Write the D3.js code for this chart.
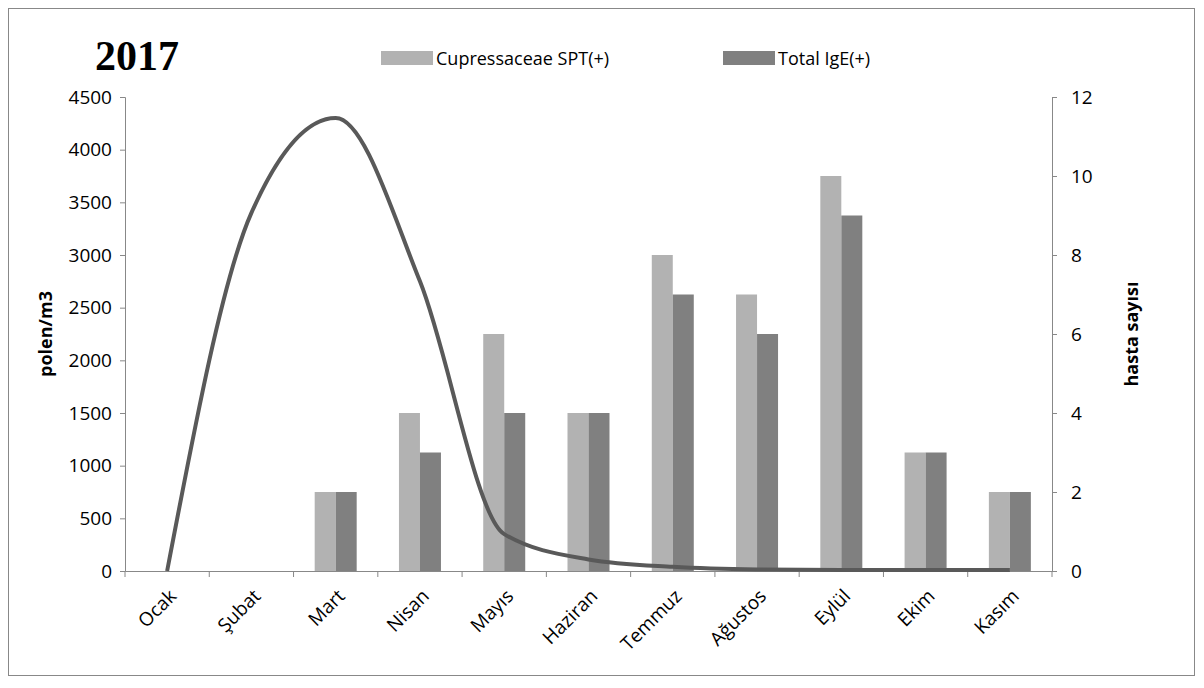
<!DOCTYPE html>
<html><head><meta charset="utf-8">
<script src="https://cdn.jsdelivr.net/npm/d3@7"></script>
<style>body{margin:0;background:#fff}</style>
</head><body>
<svg id="c" width="1204" height="688" font-family="'Open Sans',sans-serif"></svg>
<script>
const months = ['Ocak','Şubat','Mart','Nisan','Mayıs','Haziran','Temmuz','Ağustos','Eylül','Ekim','Kasım'];
const spt = [0,0,2,4,6,4,8,7,10,3,2];
const ige = [0,0,2,3,4,4,7,6,9,3,2];
const polen = [0,3400,4300,2750,350,110,40,15,10,10,10];
const leftTicks = d3.range(0,4501,500);
const rightTicks = d3.range(0,13,2);

const svg = d3.select('#c');
svg.append('rect').attr('x',8.5).attr('y',8.5).attr('width',1186).attr('height',667)
  .attr('fill','#fff').attr('stroke','#888');

const m = {l:125,r:1052,t:97,b:571};
const x = d3.scaleBand().domain(months).range([m.l,m.r]);
const yL = d3.scaleLinear().domain([0,4500]).range([m.b,m.t]);
const yR = d3.scaleLinear().domain([0,12]).range([m.b,m.t]);

const gl = svg.append('g').attr('transform',`translate(${m.l},0)`)
  .call(d3.axisLeft(yL).tickValues(leftTicks).tickFormat(d3.format('d')).tickSize(5).tickPadding(8));
const gr = svg.append('g').attr('transform',`translate(${m.r},0)`)
  .call(d3.axisRight(yR).tickValues(rightTicks).tickSize(5).tickPadding(14));
const gx = svg.append('g').attr('transform',`translate(0,${m.b})`)
  .call(d3.axisBottom(x).tickSize(6).tickSizeOuter(0));
gx.selectAll('.tick line').attr('transform',`translate(${x.bandwidth()/2},0)`);
gx.append('line').attr('x1',m.l).attr('x2',m.l).attr('y2',6).attr('stroke','#888');
[gl,gr,gx].forEach(g=>{g.selectAll('path,line').attr('stroke','#888');
  g.selectAll('text').attr('font-size',19).attr('fill','#000').attr('font-family','"Open Sans",sans-serif');});
gx.selectAll('text').attr('text-anchor','end').attr('dy',0)
  .attr('transform','translate(4,20) rotate(-45)');

const bw = 21;
const g = svg.append('g');
months.forEach((mo,i)=>{
  const cx = x(mo)+x.bandwidth()/2;
  g.append('rect').attr('x',cx-bw).attr('width',bw).attr('y',yR(spt[i])).attr('height',m.b-yR(spt[i])).attr('fill','#b2b2b2');
  g.append('rect').attr('x',cx).attr('width',bw).attr('y',yR(ige[i])).attr('height',m.b-yR(ige[i])).attr('fill','#808080');
});

svg.append('path').datum(polen)
  .attr('d',d3.line().x((d,i)=>x(months[i])+x.bandwidth()/2).y(d=>yL(d)).curve(d3.curveMonotoneX))
  .attr('fill','none').attr('stroke','#595959').attr('stroke-width',4);

svg.append('text').attr('x',95).attr('y',70).attr('font-family','"Liberation Serif",serif')
  .attr('font-weight','bold').attr('font-size',42).text('2017');
svg.append('text').attr('transform','translate(52,334) rotate(-90)').attr('text-anchor','middle')
  .attr('font-weight','bold').attr('font-size',18).text('polen/m3');
svg.append('text').attr('transform','translate(1138,334) rotate(-90)').attr('text-anchor','middle')
  .attr('font-weight','bold').attr('font-size',18).text('hasta sayısı');

const leg = [['Cupressaceae SPT(+)','#b2b2b2',381],['Total IgE(+)','#808080',723]];
leg.forEach(([t,c,lx])=>{
  svg.append('rect').attr('x',lx).attr('y',51).attr('width',52).attr('height',14).attr('fill',c);
  svg.append('text').attr('x',lx+55).attr('y',65).attr('font-size',18).text(t);
});
</script>
</body></html>
